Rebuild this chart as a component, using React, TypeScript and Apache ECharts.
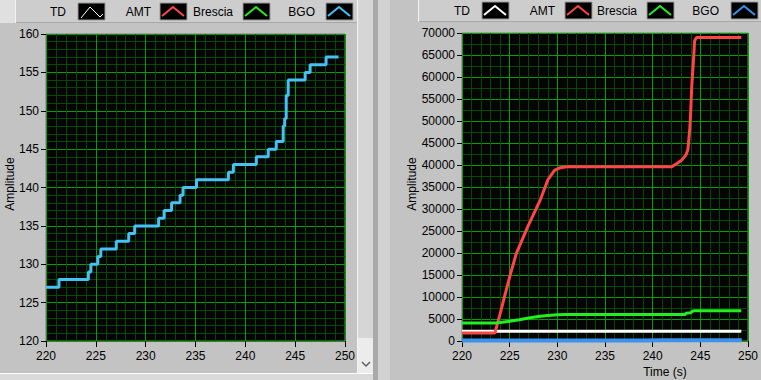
import React, { useEffect, useRef } from "react";
import * as echarts from "echarts";

// ---------- data ----------
const seriesNames = ["TD", "AMT", "Brescia", "BGO"];

const tdTime = [220, 249.3];
const tdValue = [2200, 2200];

const amtTime = [220, 223.45, 224, 225, 225.7, 226.9, 228.2, 229.0, 229.7, 230.3, 231, 242, 242.5, 243, 243.5, 243.7, 243.9, 244.0, 244.1, 244.3, 244.4, 244.6, 249.3];
const amtValue = [1800, 1800, 6200, 14600, 19900, 26000, 32000, 36600, 38800, 39400, 39600, 39600, 40300, 41000, 42300, 43500, 48400, 52600, 57900, 64400, 68200, 69000, 69000];

const bresciaTime = [220, 223.5, 224, 225, 226, 227, 228, 229, 230, 231, 243.4, 243.5, 244, 244.1, 244.4, 249.3];
const bresciaValue = [4100, 4100, 4200, 4500, 4850, 5250, 5550, 5800, 5950, 6000, 6000, 6300, 6400, 6700, 6900, 6900];

const bgoTime = [220, 221.3, 224.25, 224.5, 225.2, 225.5, 227.05, 228.3, 228.9, 231.3, 231.85, 232.6, 233.45, 233.75, 235.1, 238.3, 238.8, 241.1, 242.3, 243.1, 243.8, 243.95, 244.1, 244.3, 246.0, 246.5, 248.1, 249.35];
const bgoValue = [127, 128, 129, 130, 131, 132, 133, 134, 135, 136, 137, 138, 139, 140, 141, 142, 143, 144, 145, 146, 148, 149, 152, 154, 155, 156, 157, 157];

const xMin = 220, xMax = 250, xInterval = 5;
const leftYMin = 120, leftYMax = 160, leftYInterval = 5;
const rightYMin = 0, rightYMax = 70000, rightYInterval = 5000;

// ---------- styling ----------
const FONT = "Liberation Sans";
const leftColors = ["#ffffff", "#ff4545", "#22ee22", "#44c2f4"];
const rightColors = ["#ffffff", "#ff4545", "#22ee22", "#3a92ee"];

const pairs = (t: number[], v: number[]) => t.map((x, i) => [x, v[i]]);

const seriesData = [
  pairs(tdTime, tdValue),
  pairs(amtTime, amtValue),
  pairs(bresciaTime, bresciaValue),
  pairs(bgoTime, bgoValue),
];

const plain = (v: number) => String(v);

function xAxis(gridIndex: number) {
  return {
    type: "value",
    gridIndex,
    min: xMin,
    max: xMax,
    interval: xInterval,
    axisLine: { show: false },
    axisTick: { show: true, length: 6, lineStyle: { color: "#000", width: 1 } },
    axisLabel: { color: "#000", fontSize: 12, fontFamily: FONT, margin: 9, showMinLabel: true, showMaxLabel: true, formatter: plain },
    splitLine: { show: true, lineStyle: { color: "#00a000", width: 1 } },
    minorTick: { show: false, splitNumber: 5 },
    minorSplitLine: { show: true, lineStyle: { color: "#004a00", width: 1 } },
  };
}

function yAxis(gridIndex: number, min: number, max: number, interval: number, minorSplit: number) {
  return {
    type: "value",
    gridIndex,
    min,
    max,
    interval,
    axisLine: { show: false },
    axisTick: { show: true, length: 5, lineStyle: { color: "#000", width: 1 } },
    axisLabel: { color: "#000", fontSize: 12, fontFamily: FONT, margin: 7, showMinLabel: true, showMaxLabel: true, formatter: plain },
    splitLine: { show: true, lineStyle: { color: "#00a000", width: 1 } },
    minorTick: { show: false, splitNumber: minorSplit },
    minorSplitLine: { show: true, lineStyle: { color: "#004a00", width: 1 } },
  };
}

function legendGraphics(items: { textRight: number; boxX: number }[], boxY: number, colors: string[], thinTD: boolean) {
  const els: any[] = [];
  items.forEach((it, i) => {
    els.push({
      type: "text",
      x: it.textRight,
      y: boxY + 9,
      style: { text: seriesNames[i], fill: "#000", font: `12px '${FONT}'`, align: "right", verticalAlign: "middle" },
    });
    els.push({
      type: "rect",
      shape: { x: it.boxX, y: boxY, width: 27, height: 17 },
      style: { fill: "#000", stroke: "#9a9a9a", lineWidth: 1 },
    });
    const bx = it.boxX, by = boxY;
    const pts = thinTD && i === 0
      ? [[bx + 3, by + 15], [bx + 12, by + 4], [bx + 22, by + 14], [bx + 25, by + 11]]
      : [[bx + 2, by + 13], [bx + 13, by + 4], [bx + 24, by + 13]];
    els.push({
      type: "polyline",
      shape: { points: pts },
      style: { stroke: colors[i], lineWidth: thinTD && i === 0 ? 1 : 2, fill: null },
    });
  });
  return els;
}

function buildOption() {
  const series: any[] = [];
  [0, 1].forEach((g) => {
    const colors = g === 0 ? leftColors : rightColors;
    // draw order: TD, Brescia, AMT, BGO
    [0, 2, 1, 3].forEach((i) => {
      series.push({
        type: "line",
        name: seriesNames[i] + (g === 0 ? "" : " "),
        xAxisIndex: g,
        yAxisIndex: g,
        data: seriesData[i],
        showSymbol: false,
        symbol: "none",
        step: i === 3 ? "end" : false,
        clip: true,
        lineStyle: { color: colors[i], width: g === 1 && i === 3 ? 4 : 3 },
        itemStyle: { color: colors[i] },
        z: 3 + i,
      });
    });
  });

  const graphic: any[] = [
    // left panel legend bar
    { type: "rect", shape: { x: 0, y: 0, width: 373, height: 23 }, style: { fill: "#cdcdcd" }, z: -10 },
    { type: "rect", shape: { x: 0, y: 0, width: 15, height: 23 }, style: { fill: "#e0e0e0" }, z: -9 },
    { type: "line", shape: { x1: 15, y1: 22.5, x2: 358, y2: 22.5 }, style: { stroke: "#a8a8a8", lineWidth: 1 }, z: -8 },
    { type: "line", shape: { x1: 15.5, y1: 0, x2: 15.5, y2: 23 }, style: { stroke: "#f2f2f2", lineWidth: 1 }, z: -8 },
    // left panel scrollbar
    { type: "rect", shape: { x: 357, y: 0, width: 16, height: 373 }, style: { fill: "#d6d6d6" }, z: -8 },
    { type: "line", shape: { x1: 357.5, y1: 0, x2: 357.5, y2: 373 }, style: { stroke: "#f4f4f4", lineWidth: 1 }, z: -7 },
    { type: "rect", shape: { x: 358, y: 338, width: 15, height: 35 }, style: { fill: "#ececec" }, z: -7 },
    { type: "polyline", shape: { points: [[362, 362], [366, 366], [370, 362]] }, style: { stroke: "#606060", lineWidth: 1.5, fill: null }, z: -6 },
    // left panel bottom strip
    { type: "rect", shape: { x: 0, y: 373, width: 373, height: 7 }, style: { fill: "#dadada" }, z: -8 },
    { type: "line", shape: { x1: 0, y1: 373.5, x2: 373, y2: 373.5 }, style: { stroke: "#ffffff", lineWidth: 1 }, z: -7 },
    // separator
    { type: "rect", shape: { x: 373, y: 0, width: 5, height: 380 }, style: { fill: "#a9a9a9" }, z: -8 },
    // right panel
    { type: "rect", shape: { x: 378, y: 0, width: 12, height: 380 }, style: { fill: "#d2d2d2" }, z: -9 },
    { type: "rect", shape: { x: 418, y: 0, width: 343, height: 22 }, style: { fill: "#cdcdcd" }, z: -8 },
    { type: "line", shape: { x1: 418, y1: 21.5, x2: 761, y2: 21.5 }, style: { stroke: "#a8a8a8", lineWidth: 1 }, z: -7 },
    { type: "line", shape: { x1: 418.5, y1: 0, x2: 418.5, y2: 22 }, style: { stroke: "#f2f2f2", lineWidth: 1 }, z: -7 },
    // axis names
    { type: "text", x: 10, y: 184, rotation: Math.PI / 2, style: { text: "Amplitude", fill: "#000", font: `12px '${FONT}'`, align: "center", verticalAlign: "middle" } },
    { type: "text", x: 412, y: 184, rotation: Math.PI / 2, style: { text: "Amplitude", fill: "#000", font: `12px '${FONT}'`, align: "center", verticalAlign: "middle" } },
    { type: "text", x: 665, y: 372, style: { text: "Time (s)", fill: "#000", font: `12px '${FONT}'`, align: "center", verticalAlign: "middle" } },
    ...legendGraphics(
      [
        { textRight: 66, boxX: 78 },
        { textRight: 151, boxX: 160 },
        { textRight: 233, boxX: 243 },
        { textRight: 315, boxX: 326 },
      ],
      3, leftColors, true
    ),
    ...legendGraphics(
      [
        { textRight: 470, boxX: 482 },
        { textRight: 555, boxX: 565 },
        { textRight: 637, boxX: 647 },
        { textRight: 719, boxX: 731 },
      ],
      2, rightColors, false
    ),
  ];

  return {
    animation: false,
    backgroundColor: "#c3c3c3",
    textStyle: { fontFamily: FONT },
    grid: [
      { left: 46, top: 34, width: 299, height: 307, show: true, backgroundColor: "#050505", borderColor: "#7c7c7c", borderWidth: 1, containLabel: false },
      { left: 462, top: 33, width: 286, height: 308, show: true, backgroundColor: "#050505", borderColor: "#7c7c7c", borderWidth: 1, containLabel: false },
    ],
    xAxis: [xAxis(0), xAxis(1)],
    yAxis: [
      yAxis(0, leftYMin, leftYMax, leftYInterval, 5),
      yAxis(1, rightYMin, rightYMax, rightYInterval, 2),
    ],
    series,
    graphic,
  };
}

export default function App() {
  const ref = useRef<HTMLDivElement>(null);
  useEffect(() => {
    const chart = echarts.init(ref.current!, null, { renderer: "svg" });
    chart.setOption(buildOption() as any);
    return () => chart.dispose();
  }, []);
  return <div ref={ref} style={{ position: "fixed", left: 0, top: 0, width: 761, height: 380 }} />;
}
